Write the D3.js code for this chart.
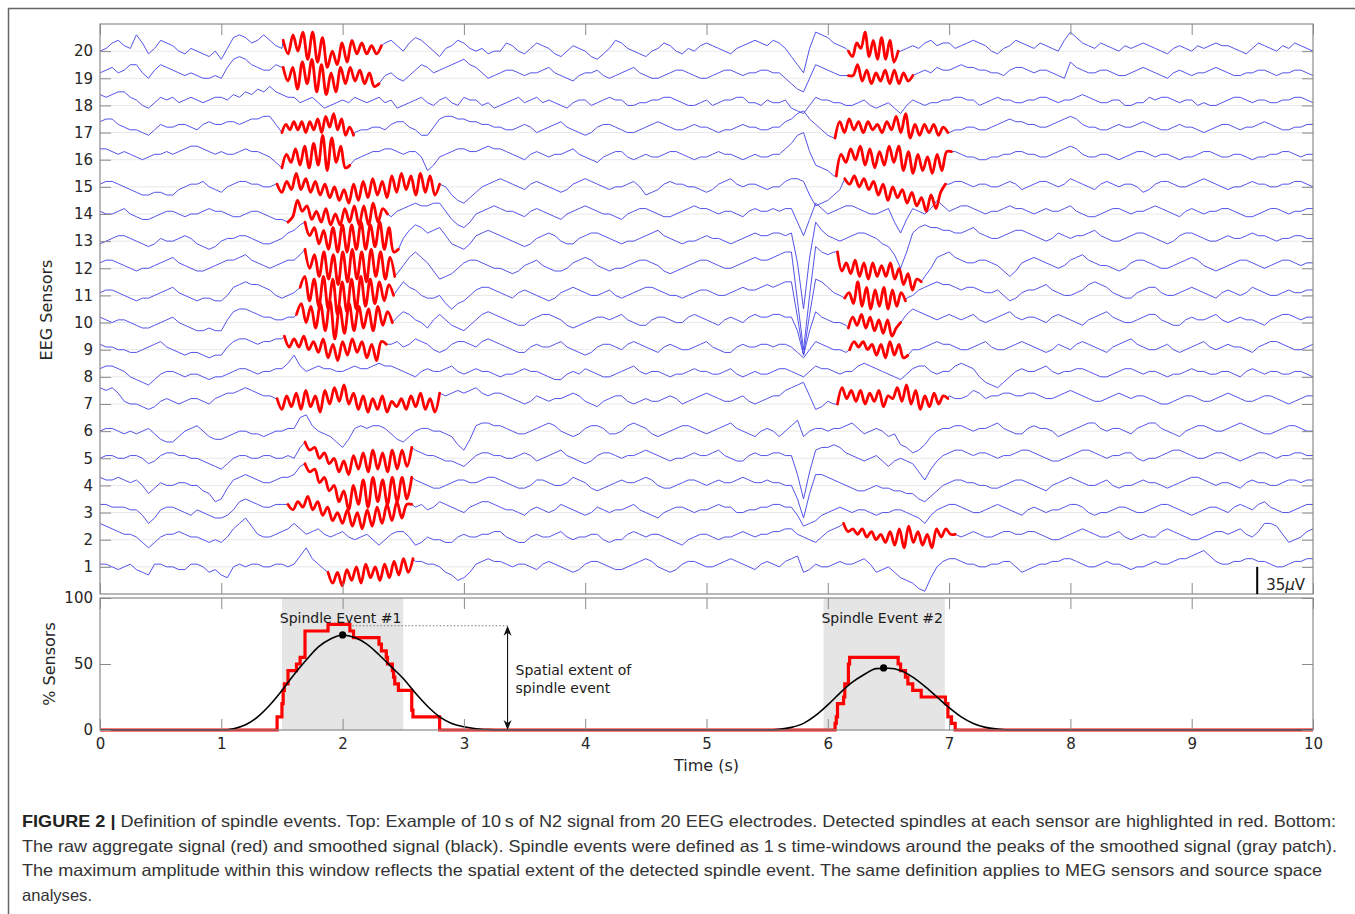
<!DOCTYPE html>
<html>
<head>
<meta charset="utf-8">
<script src="https://cdn.jsdelivr.net/npm/d3@7"></script>
<style>
  body { margin: 0; background: #fff; }
  svg text { font-family: "DejaVu Sans", sans-serif; }
</style>
</head>
<body>
<svg id="chart" width="1355" height="914"></svg>
<script>
// EEG traces, one value every 0.05 s (one row per second), in tenths of the channel spacing (10 = 35 uV)
var sampleStep = 0.05;
var ch20 = [0,1,3,4,2,1,6,3,-1,1,4,3,2,0,-1,1,0,-1,-2,0,
  -3,1,5,6,5,3,4,6,4,2,1,0,0,0,0,0,0,0,0,0,
  0,0,0,0,0,0,0,3,4,2,0,3,5,4,2,0,-2,1,2,4,
  3,1,0,1,-1,0,0,3,2,0,-1,1,3,2,1,-1,-2,0,2,1,
  0,-2,-3,-1,1,4,3,1,0,-1,-2,0,1,3,2,0,-1,1,0,2,
  3,2,1,0,-1,1,2,3,4,3,2,4,3,1,-2,-5,-8,1,7,6,
  5,3,2,1,0,0,0,0,0,0,0,0,0,1,2,1,3,4,2,3,
  3,1,2,3,4,3,2,0,-1,1,2,4,3,2,1,3,2,1,0,4,
  7,5,3,2,1,3,2,1,0,2,1,2,3,2,1,0,-1,1,2,1,
  0,2,1,2,3,2,2,1,0,-1,1,3,2,1,0,2,1,3,2,1, 0];
var ch19 = [2,3,4,2,3,5,5,2,0,3,5,4,3,2,1,2,1,0,0,1,
  0,4,7,8,7,5,4,3,3,5,4,0,0,0,0,0,0,0,0,0,
  0,0,0,0,0,0,4,1,2,0,-1,1,3,5,4,2,3,4,5,6,
  7,5,4,2,0,1,2,3,3,2,1,2,2,3,4,2,1,0,-1,1,
  2,2,3,1,0,1,2,3,4,2,1,0,0,1,2,3,3,2,1,0,
  0,1,2,3,3,2,1,2,2,3,3,2,2,0,-2,-4,-5,0,5,4,
  3,2,1,1,0,0,0,0,0,0,0,0,0,0,1,2,3,2,4,3,
  3,4,5,4,4,3,3,2,2,1,3,4,4,3,2,3,3,2,1,0,
  6,4,3,2,2,3,3,2,1,1,2,3,4,3,2,1,0,2,3,2,
  1,2,2,3,4,3,2,1,1,2,2,3,3,2,1,2,2,3,3,2, 1];
var ch18 = [4,3,4,5,5,3,2,0,-1,1,3,2,3,1,2,3,2,1,2,3,
  3,2,4,3,5,4,6,5,7,5,4,3,3,1,2,3,1,-1,0,1,
  2,1,3,2,1,2,3,1,2,-1,0,1,2,3,1,0,2,3,1,0,
  3,2,2,0,1,-1,0,1,2,3,1,2,3,1,2,1,0,-1,1,2,
  2,0,1,2,3,2,2,0,0,1,1,2,2,3,3,2,1,0,0,1,
  2,0,1,2,2,3,3,1,1,0,2,1,1,2,-1,-2,-3,0,3,2,
  2,1,1,0,0,1,2,0,-1,0,1,-1,-3,0,2,1,0,1,1,2,
  2,3,3,2,2,0,1,2,3,2,2,1,1,2,2,3,3,2,1,2,
  2,3,4,3,2,1,1,2,2,0,0,1,1,3,2,3,3,2,1,2,
  2,0,1,0,0,1,2,3,3,2,1,2,2,1,1,2,2,3,3,2, 1];
var ch17 = [4,5,5,3,2,1,1,0,-1,1,3,2,2,3,3,2,1,3,4,3,
  3,4,4,3,4,5,5,6,6,3,0,0,0,0,0,0,0,0,0,0,
  0,0,0,1,1,2,2,1,3,4,4,2,1,-1,-1,2,5,6,6,5,
  5,4,4,3,3,2,2,1,1,2,3,2,0,1,2,3,4,2,1,0,
  -1,0,2,3,3,2,1,0,0,1,2,3,4,3,2,1,1,2,3,2,
  2,1,0,1,1,2,3,2,2,1,1,2,2,4,5,7,8,5,3,1,
  -1,-2,0,0,0,0,0,0,0,0,0,0,0,0,0,0,0,0,0,0,
  0,1,1,2,2,1,1,2,3,4,5,4,4,3,3,2,2,3,4,5,
  6,5,3,2,2,1,1,2,3,2,2,3,4,3,2,1,1,2,3,2,
  2,1,0,1,2,3,3,2,1,2,2,3,4,3,2,1,1,2,2,3, 3];
var ch16 = [4,4,3,2,3,2,1,0,1,2,2,3,2,3,4,5,5,4,3,2,
  3,2,2,3,4,3,3,2,1,-1,0,0,0,0,0,0,0,0,0,0,
  0,0,0,1,2,3,3,4,4,3,2,3,3,1,-4,-2,1,2,3,4,
  4,3,3,4,5,4,4,3,2,1,0,2,3,2,1,2,2,3,4,2,
  1,0,-1,1,2,3,3,1,0,1,2,1,1,2,3,3,2,1,0,1,
  1,2,3,2,2,1,0,1,2,1,1,2,2,4,6,9,10,3,-2,-3,
  -4,-6,0,0,0,0,0,0,0,0,0,0,0,0,0,0,0,0,0,0,
  0,3,2,1,1,0,0,1,1,2,2,3,3,2,2,1,1,2,3,4,
  5,4,2,1,1,2,2,1,0,1,2,3,3,2,1,2,2,1,0,1,
  1,2,3,3,2,1,1,2,2,1,0,1,1,2,2,3,3,2,1,2, 2];
var ch15 = [1,2,2,1,0,-1,-2,-3,-3,-2,-2,-3,-3,-1,0,1,1,2,0,-1,
  -2,0,1,2,2,1,1,0,0,1,0,0,0,0,0,0,0,0,0,0,
  0,0,0,0,0,0,0,0,0,0,0,0,0,0,0,0,0,0,-3,-5,
  -6,-4,-2,0,1,2,3,2,1,0,-1,1,2,1,0,-1,-2,-1,1,2,
  3,2,1,0,-1,0,0,1,2,0,-3,-2,-1,1,2,1,1,0,0,-1,
  -2,-1,1,2,3,1,0,1,1,0,-1,0,0,2,3,3,2,-3,-7,-6,
  -5,-3,-1,0,0,0,0,0,0,0,0,0,0,0,0,0,0,0,0,0,
  1,2,2,1,0,1,1,0,0,1,2,1,-1,0,1,2,2,1,0,1,
  3,2,1,0,-1,1,2,1,0,1,1,0,-2,-1,1,2,2,1,0,0,
  1,2,3,2,1,0,-1,0,0,1,2,1,1,0,0,1,1,2,2,1, 0];
var ch14 = [1,0,0,1,2,0,-1,-2,-2,-1,0,1,1,0,-1,0,0,1,2,1,
  1,0,-1,-1,0,1,1,0,-1,-2,-2,-3,0,0,0,0,0,0,0,0,
  0,0,0,0,0,0,0,0,-1,1,2,3,4,3,3,4,4,1,-2,-4,
  -5,-3,0,1,2,3,2,1,1,0,-1,1,2,1,0,-1,-2,0,1,2,
  3,2,1,0,0,-1,-2,0,1,2,2,1,0,-1,-1,0,1,2,3,2,
  2,1,0,1,1,0,-1,1,2,1,1,2,1,2,2,-3,-8,-2,4,2,
  0,1,2,3,3,2,1,0,0,1,2,-3,-7,-2,2,1,0,2,5,3,
  1,2,3,3,2,1,0,1,1,2,3,2,2,1,0,1,2,1,1,2,
  3,1,0,-1,-1,0,1,2,2,1,0,1,1,2,3,2,1,0,-1,1,
  2,1,0,1,1,2,2,1,0,-1,-1,0,1,2,2,1,0,1,1,2, 2];
var ch13 = [-1,0,1,2,2,1,0,-1,-2,-1,1,0,0,1,2,1,-1,-2,-3,-2,
  0,1,1,2,2,1,0,-1,-1,0,1,3,4,6,0,0,0,0,0,0,
  0,0,0,0,0,0,0,0,0,-2,1,4,6,5,3,4,5,2,-1,-2,
  -3,-1,2,3,4,3,2,1,0,-1,-2,-1,1,2,3,2,0,-1,-1,1,
  2,3,3,2,1,0,-1,0,0,1,2,3,4,2,1,0,-1,0,0,1,
  2,1,1,0,-1,0,1,2,3,2,2,3,3,2,3,-8,-25,-6,7,4,
  2,1,0,1,2,3,3,2,1,-1,-2,-5,-10,-4,3,5,6,5,5,4,
  4,3,3,4,5,3,2,1,1,2,3,4,4,3,2,1,0,1,3,2,
  1,2,2,3,4,2,1,0,0,1,2,3,3,2,1,0,-1,0,2,3,
  3,2,1,0,0,1,2,1,1,2,3,2,2,1,0,1,1,2,2,1, 1];
var ch12 = [2,3,3,2,1,0,-1,0,0,1,2,3,4,2,1,0,-1,-1,0,1,
  2,3,3,4,5,3,2,1,0,1,2,3,3,5,0,0,0,0,0,0,
  0,0,0,0,0,0,0,0,0,-2,1,4,6,4,2,-1,-4,-3,-2,0,
  2,3,3,2,1,0,0,-1,-2,-1,1,2,3,1,0,-1,-1,0,2,3,
  4,3,1,0,-1,0,0,1,2,3,3,2,1,-1,-2,-1,0,1,2,3,
  3,2,1,0,0,1,2,3,4,3,3,4,5,6,6,-12,-30,-10,8,6,
  5,6,0,0,0,0,0,0,0,0,0,0,0,0,0,0,-3,0,4,5,
  6,4,3,2,2,3,3,2,1,-1,-3,-1,2,3,4,3,2,1,0,1,
  3,4,5,3,2,1,1,0,-1,0,2,3,3,2,1,0,0,1,2,3,
  4,3,1,0,-1,0,1,2,3,3,2,1,0,1,2,3,3,2,1,2, 2];
var ch11 = [1,2,2,1,0,-1,-2,-1,-1,0,1,2,3,1,0,-1,-2,-1,-1,-2,
  -2,0,3,4,5,4,4,3,2,0,-1,0,1,2,0,0,0,0,0,0,
  0,0,0,0,0,0,0,0,0,2,5,3,2,0,-1,-1,0,-3,-5,-3,
  -2,0,2,3,3,2,1,0,-1,1,2,1,0,-1,-2,-1,1,2,3,2,
  1,0,0,1,2,0,-1,0,1,2,3,3,2,1,0,0,-1,0,1,2,
  2,1,0,0,1,2,3,2,2,3,4,3,4,5,5,-8,-22,-7,6,5,
  3,1,0,0,0,0,0,0,0,0,0,0,0,-1,0,2,3,4,5,4,
  4,3,2,3,3,2,1,1,2,0,-2,-1,1,2,2,3,4,2,1,0,
  0,1,2,4,5,4,3,1,0,-1,-1,1,2,3,3,1,0,0,1,2,
  3,2,1,0,-1,1,2,1,0,1,3,2,1,0,0,1,2,1,1,2, 2];
var ch10 = [2,1,0,1,1,0,-1,-2,-2,-1,0,1,2,0,-1,-2,-3,-3,-2,-3,
  -3,1,4,5,5,4,3,2,2,1,1,2,2,0,0,0,0,0,0,0,
  0,0,0,0,0,0,0,0,0,2,4,3,1,0,-2,1,3,1,-1,-2,
  -3,-1,1,3,4,3,2,1,0,-1,-1,1,2,3,3,2,1,-1,-2,-1,
  0,1,2,2,1,2,3,1,0,-1,-1,1,2,2,1,0,0,2,3,2,
  1,0,-1,1,2,1,0,2,3,2,2,3,3,2,2,-3,-12,-3,4,2,
  1,0,0,-1,0,0,0,0,0,0,0,0,0,3,5,4,3,2,1,2,
  3,2,1,2,3,1,0,1,2,3,4,2,1,2,2,1,0,2,3,2,
  1,0,-1,1,2,3,4,2,1,0,0,1,2,3,3,1,0,-1,-1,1,
  2,1,1,2,3,1,0,1,2,1,1,0,-1,1,2,3,3,2,1,2, 2];
var ch9 = [2,1,1,0,0,-1,-1,0,1,2,3,1,0,-1,-2,-1,-1,-2,-3,-2,
  -2,1,3,4,4,3,2,3,3,4,4,0,0,0,0,0,0,0,0,0,
  0,0,0,0,0,0,0,0,2,3,1,2,4,3,2,0,-1,0,2,3,
  3,2,1,3,4,3,2,1,0,-1,-1,1,2,1,1,2,3,1,0,-1,
  -2,-1,1,2,2,1,0,2,3,2,1,0,-1,1,2,1,0,0,1,2,
  3,1,0,-1,-1,1,2,1,1,2,2,1,2,2,1,-1,-3,0,3,2,
  1,0,0,-1,0,0,0,0,0,0,0,0,0,0,0,0,1,2,3,2,
  2,1,0,0,1,2,3,1,0,0,1,2,3,2,1,0,-1,0,2,1,
  0,2,3,2,1,0,-1,1,2,3,4,2,1,0,0,1,2,0,-1,0,
  1,2,3,1,0,1,2,1,1,0,-1,1,2,3,3,2,1,0,0,1, 2];
var ch8 = [3,4,4,3,2,0,-1,-2,-3,-1,1,2,2,1,0,1,1,0,-1,0,
  0,1,2,3,3,2,1,2,2,3,3,5,8,4,2,3,4,3,3,2,
  2,3,4,3,3,4,5,4,4,3,2,1,0,2,3,2,2,3,4,2,
  1,2,3,2,2,1,0,1,1,2,3,2,2,1,0,-1,-1,1,2,1,
  3,2,1,0,0,1,2,3,4,2,1,2,2,1,0,1,1,2,3,2,
  2,1,1,2,3,1,0,1,2,1,1,2,3,3,2,1,0,2,4,3,
  3,2,1,2,2,4,5,4,3,2,1,0,-1,1,3,4,4,2,1,2,
  2,4,5,4,3,0,-2,-3,-4,-2,0,2,3,2,2,3,4,2,1,2,
  2,3,3,2,1,0,0,1,2,3,3,2,1,2,2,1,0,1,1,2,
  3,2,2,1,1,2,2,1,0,2,3,2,1,2,2,1,1,2,2,1, 0];
var ch7 = [6,5,6,4,1,0,0,-1,-2,-1,1,2,1,0,1,2,2,1,0,2,
  3,4,4,5,6,5,4,3,3,2,0,0,0,0,0,0,0,0,0,0,
  0,0,0,0,0,0,0,0,0,0,0,0,0,0,0,0,0,3,4,5,
  4,5,6,4,3,4,4,3,2,1,0,1,3,2,1,2,2,3,4,3,
  1,0,-1,1,2,3,3,1,0,1,2,1,1,2,3,2,0,1,2,3,
  4,3,2,1,1,2,3,1,0,1,2,3,3,5,6,7,8,3,-2,-1,
  1,0,0,0,0,0,0,0,0,0,0,0,0,0,0,0,0,0,0,0,
  3,2,2,3,5,4,2,3,3,4,4,3,3,4,4,3,2,2,3,4,
  5,4,3,2,1,1,2,3,4,3,2,3,3,2,1,0,0,1,2,3,
  3,2,1,1,2,3,4,3,2,1,1,2,3,3,2,1,0,1,2,3, 3];
var ch6 = [0,1,1,0,-1,0,-1,0,1,-1,-3,-4,-4,-2,0,1,2,0,-2,-3,
  -3,-2,-1,0,0,-1,-1,-2,-1,0,0,1,1,5,6,2,0,-1,-2,-4,
  -6,-3,1,2,1,2,2,1,-1,-3,-4,-2,0,1,1,0,0,-1,-2,-5,
  -7,-3,2,3,3,2,2,1,0,-1,-1,0,1,2,3,2,0,-1,-2,-1,
  1,2,2,1,-1,-1,0,2,3,2,1,-1,-2,-1,0,1,2,2,1,0,
  -1,0,1,2,3,1,0,-1,-2,0,1,0,-2,0,2,4,-2,0,1,1,
  0,1,1,2,3,1,-1,0,1,0,-2,-1,-5,-6,-8,-7,-5,-2,0,1,
  1,2,2,1,0,1,1,2,3,1,0,-1,-1,1,2,1,1,0,-2,-1,
  0,1,2,3,3,1,0,1,1,0,-1,1,2,3,3,1,0,-1,-2,0,
  1,2,2,1,0,0,1,2,3,2,1,0,-1,-1,0,1,2,2,1,0, 0];
var ch5 = [0,1,1,0,0,1,1,0,-2,-1,1,2,2,1,1,0,0,-1,-2,-3,
  -4,-2,0,1,1,0,0,1,1,0,0,1,0,4,0,0,0,0,0,0,
  0,0,0,0,0,0,0,0,0,0,0,0,3,2,1,1,0,-1,-1,-2,
  -3,-1,1,2,2,1,1,0,0,1,2,1,-1,0,1,2,3,1,0,-1,
  -2,-1,1,2,2,1,0,1,1,2,3,2,1,0,-1,0,0,1,2,1,
  1,2,3,1,0,-1,-1,1,2,1,1,2,2,1,1,-6,-15,-5,3,4,
  4,5,4,2,1,0,-1,0,1,-1,-3,-1,0,-1,-2,-5,-8,-4,-1,1,
  2,3,3,2,1,2,2,1,0,1,1,2,3,3,2,1,0,-1,-1,0,
  1,2,3,3,2,1,0,1,1,2,2,0,-1,0,0,1,2,3,3,2,
  1,0,0,1,2,2,1,0,-1,0,1,2,2,1,0,1,1,2,2,1, 1];
var ch4 = [3,2,2,3,2,1,2,0,-3,-1,1,0,0,1,1,0,0,-2,-3,-6,
  -5,-1,2,3,4,3,2,1,1,2,3,3,4,7,0,0,0,0,0,0,
  0,0,0,0,0,0,0,0,0,0,0,0,2,1,0,-1,-1,0,1,2,
  2,1,1,2,3,3,2,1,0,-1,-1,0,2,2,1,0,0,1,3,2,
  1,-1,-2,-1,0,1,2,1,1,2,3,2,0,-1,-1,0,1,2,2,1,
  0,1,2,1,1,2,3,2,1,1,2,1,1,0,0,-5,-12,-3,4,4,
  3,2,1,0,-1,-2,-2,-1,0,-1,-1,-2,-2,-3,-3,-5,-6,-4,-2,0,
  1,2,2,1,1,0,0,-1,-1,0,1,2,2,1,0,-1,-2,0,1,2,
  3,2,1,0,0,1,2,0,-1,0,0,1,2,1,1,0,-1,0,1,2,
  3,3,2,1,0,1,1,0,-1,1,2,1,1,0,0,1,2,2,1,2, 2];
var ch3 = [3,3,2,2,2,1,1,-1,-4,-2,1,2,2,1,0,-1,1,0,-1,-2,
  -2,-1,1,4,5,4,3,2,2,3,3,0,0,0,0,0,0,0,0,0,
  0,0,0,0,0,0,0,0,0,0,0,0,2,3,1,2,4,3,2,1,
  0,2,3,4,4,3,2,1,1,0,-1,1,2,1,0,1,3,2,1,0,
  -1,0,2,1,0,1,1,2,3,1,0,-1,-2,0,1,2,2,1,0,1,
  1,2,3,2,2,0,0,1,1,2,2,3,3,2,2,-1,-5,-4,-3,-1,
  0,1,2,1,0,1,1,0,-1,0,0,1,1,0,-1,-2,-4,-1,1,2,
  3,3,2,1,0,0,1,2,3,2,1,0,-1,1,2,1,0,1,1,2,
  3,3,2,0,-1,0,0,1,2,2,1,0,0,1,2,3,3,2,1,0,
  -1,0,1,2,2,1,0,2,3,2,1,3,4,2,1,0,0,1,2,3, 3];
var ch2 = [6,5,4,3,2,2,1,-1,-3,-1,1,2,2,3,2,1,1,0,-1,0,
  -1,1,4,6,8,5,2,1,1,2,3,4,6,4,2,3,4,2,1,2,
  3,1,0,1,2,0,-2,0,2,3,3,1,-2,-1,1,0,0,-1,-1,1,
  2,1,1,2,2,3,3,1,0,-1,-1,1,2,1,1,2,3,1,0,1,
  1,2,2,0,-1,0,0,2,3,2,1,2,2,1,0,-1,-2,0,1,2,
  2,1,0,1,1,2,3,2,1,2,2,3,3,4,4,2,1,0,-1,1,
  3,4,5,0,0,0,0,0,0,0,0,0,0,0,0,0,0,0,0,0,
  0,0,1,2,3,2,1,1,2,3,3,2,2,3,3,2,1,0,0,1,
  2,3,4,3,2,1,1,2,3,1,0,1,2,1,1,3,4,3,2,1,
  0,0,1,2,3,3,2,3,4,2,1,3,6,6,5,2,-1,0,1,3, 4];
var ch1 = [1,1,0,-1,0,1,-1,-2,-3,1,1,0,0,-1,-1,1,1,0,-2,-1,
  -3,-4,0,1,0,1,1,0,0,1,1,0,1,4,7,3,1,-1,0,0,
  0,0,0,0,0,0,0,0,0,0,0,0,2,2,1,1,0,-2,-3,-5,
  -4,-2,1,2,3,2,2,1,0,1,1,0,-1,1,2,1,0,-1,-2,-1,
  1,2,2,1,0,-1,-1,0,1,2,3,2,0,-1,-2,-1,1,2,2,1,
  0,0,1,2,3,2,1,0,-1,1,2,1,0,2,3,4,-2,-1,1,0,
  0,1,2,1,1,2,3,1,-2,-1,0,-2,-4,-5,-6,-8,-9,-4,0,2,
  3,3,2,1,1,0,0,1,1,2,2,0,-2,-1,0,1,1,2,2,3,
  3,2,1,0,0,1,2,1,1,0,-1,0,0,1,2,1,1,2,3,3,
  4,5,6,4,2,1,1,2,2,3,3,2,2,1,0,0,1,2,2,3, 3];
var channelData = [ch1,ch2,ch3,ch4,ch5,ch6,ch7,ch8,ch9,ch10,ch11,ch12,ch13,ch14,ch15,ch16,ch17,ch18,ch19,ch20];

// detected spindles: channel, start (s), end (s), waveform peaks/troughs (tenths of spacing)
var spindleChannel = [20,19,17,16,15,14,13,12,11,10,9,7,5,4,3,1, 20,19,17,16,15,12,11,10,9,7,2];
var spindleStart = [1.51,1.51,1.50,1.50,1.46,1.55,1.69,1.69,1.65,1.62,1.52,1.46,1.69,1.69,1.55,1.88, 6.17,6.17,6.06,6.07,6.14,6.08,6.14,6.17,6.18,6.08,6.13];
var spindleEnd = [2.32,2.30,2.09,2.06,2.80,2.37,2.46,2.43,2.42,2.41,2.36,2.80,2.57,2.57,2.57,2.58, 6.58,6.70,6.99,7.02,6.97,6.77,6.64,6.60,6.66,6.99,7.05];
var spindleWave = [
  [4,-1,6,0,7,-3,7,-4,5,-6,0,-5,3,-4,4,-1,3,-1,2,-1,2],
  [4,-1,4,-4,6,-2,7,-5,5,-6,2,-5,4,-2,4,-1,3,-2,2,-3,-2],
  [0,3,1,4,1,4,0,4,1,5,0,6,2,7,1,5,-1,2,-1],
  [-3,2,-1,4,-2,5,-3,6,-2,9,-4,8,-1,5,-3,-2],
  [1,-2,2,-1,5,-1,3,-2,2,-3,1,-4,0,-5,-1,-6,1,-5,2,-4,3,-3,2,-4,4,-2,5,-1,4,-3,5,-2,4,-3,1],
  [-3,-1,5,1,3,-2,1,-3,2,-4,0,-4,2,-3,3,-4,3,-4,4,-3,2,0],
  [7,2,5,-1,4,-3,5,-4,6,-4,6,-3,7,-3,6,-2,7,-3,5,-4,-3],
  [7,0,5,-3,6,-4,5,-6,6,-5,7,-4,6,-5,7,-3,6,-4,4,-3],
  [3,7,-2,6,-4,7,-5,6,-7,5,-6,6,-5,7,-4,6,-3,5,-2,4,0],
  [3,7,0,6,-2,7,-3,8,-6,6,-4,7,-3,6,-2,5,-3,6,-1,4,0],
  [5,1,4,1,5,0,3,-1,4,-3,2,-4,3,-2,4,-1,3,-3,2,-4,3,2],
  [2,-2,3,-1,4,-2,5,-1,3,-3,5,0,6,1,7,0,4,-2,3,-3,2,-2,3,-3,1,-1,2,-2,3,-1,4,-2,2,-3,4],
  [6,3,4,0,2,-2,0,-5,-1,-6,1,-4,2,-5,3,-4,2,-5,3,-4,3,-3,4],
  [8,5,6,1,3,-2,0,-6,-2,-9,0,-7,2,-8,3,-6,2,-7,3,-6,3,-5,3],
  [3,1,4,2,6,1,4,-1,2,-3,0,-4,1,-5,0,-6,1,-5,2,-4,3,-3,4,-2,3,3],
  [-2,-6,-2,-7,-1,-5,0,-6,1,-4,0,-5,1,-4,2,-3,3,-2,3],
  [0,-2,3,1,7,-2,4,-3,5,-3,4,-4,0],
  [1,1,5,-1,3,-2,2,-1,3,-2,3,-2,2,-1,1],
  [-2,4,0,5,1,4,0,4,1,3,0,4,1,6,0,7,-2,3,-1,3,0,3,-1,2,0],
  [-6,2,-1,4,0,5,-2,4,-3,3,-2,5,-1,5,-4,3,-5,2,-4,1,-5,2,-4,3,3],
  [3,1,4,0,3,-1,2,-3,1,-5,0,-4,-1,-6,-2,-7,-4,-9,-3,-8,-2,1],
  [6,-1,2,-2,3,-3,2,-4,2,-3,1,-3,2,-4,0,-6,-2,-8,-4,-5],
  [-1,1,-3,5,-4,3,-5,2,-4,3,-5,2,-4,1,-2],
  [-2,2,-1,3,-2,2,-3,1,-4,1,-5,-2,0],
  [0,3,1,3,0,2,-2,2,-3,3,-2,2,-3,-2],
  [0,6,2,5,1,5,0,4,1,5,-1,3,2,6,1,7,0,5,-2,3,-1,4,0,3,2],
  [6,3,4,2,4,1,3,0,2,-1,3,-2,4,-3,5,-1,3,-2,2,-3,4,1,4,2,2]
];

// bottom panel
var eventStart = [1.5, 5.965];
var eventLabels = ["Spindle Event #1", "Spindle Event #2"];
var smooth1Start = 1.0;
var smooth1 = [0,1,4,10,19,30,42,53,63,69,72,70,65,57,48,39,28,18,10,5,2.5,1,0.3,0];
var smooth2Start = 5.5;
var smooth2 = [0,0.5,2,5,11,19,28,36,42,46.5,46.8,45,40,33,25,17,10,5,2,0.7,0];
var peakTimes = [2.0, 6.46];
var peakValues = [72, 47];
var extentTime = 3.36, extentFrom = 2.08, extentValue = 79;
var timeTicks = d3.range(0, 11);
var channelTicks = d3.range(1, 21);
var percentTicks = [0, 50, 100];

var svg = d3.select("#chart");

var x = d3.scaleLinear().domain([0, 10]).range([100, 1313]);
var yTop = d3.scaleLinear().domain([0, 21]).range([594, 24]);
var yBot = d3.scaleLinear().domain([0, 100]).range([730, 598]);

var spindles = spindleChannel.map(function(c, i) {
  var w = spindleWave[i];
  var dt = (spindleEnd[i] - spindleStart[i]) / (w.length - 1);
  return { ch: c, t0: spindleStart[i], t1: spindleEnd[i],
           pts: w.map(function(v, k) { return { t: spindleStart[i] + k * dt, v: v }; }) };
});

// outer figure frame
svg.append("path").attr("d", "M8.5,914 L8.5,8.5 L1355,8.5")
  .attr("fill", "none").attr("stroke", "#666").attr("stroke-width", 1.5);

// gridlines
svg.append("g").selectAll("line").data(channelTicks).enter().append("line")
  .attr("x1", x(0)).attr("x2", x(10))
  .attr("y1", function(d){ return yTop(d); }).attr("y2", function(d){ return yTop(d); })
  .attr("stroke", "#e8e8e8").attr("stroke-width", 1);

function traceLine(ch) {
  return d3.line()
    .x(function(d){ return x(d.t); })
    .y(function(d){ return yTop(ch + d.v / 10); });
}

// blue traces, cut where a spindle is drawn in red
var traceGroup = svg.append("g");
channelData.forEach(function(vals, idx) {
  var ch = idx + 1;
  var sp = spindles.filter(function(s){ return s.ch === ch; }).sort(function(a, b){ return a.t0 - b.t0; });
  var grid = vals.map(function(v, i){ return { t: i * sampleStep, v: v }; });
  for (var k = 0; k <= sp.length; k++) {
    var prev = sp[k - 1], next = sp[k];
    var a = prev ? prev.t1 : 0, b = next ? next.t0 : 10;
    var seg = [];
    if (prev) seg.push(prev.pts[prev.pts.length - 1]);
    grid.forEach(function(p) {
      if ((prev ? p.t > a + 0.005 : p.t >= a) && (next ? p.t < b - 0.005 : p.t <= b + 0.001)) seg.push(p);
    });
    if (next) seg.push(next.pts[0]);
    traceGroup.append("path").attr("d", traceLine(ch)(seg))
      .attr("fill", "none").attr("stroke", "#4a4ae8").attr("stroke-width", 0.95)
      .attr("stroke-linejoin", "round");
  }
});

// red spindles
svg.append("g").selectAll("path").data(spindles).enter().append("path")
  .attr("d", function(s){ return traceLine(s.ch).curve(d3.curveCatmullRom.alpha(0.5))(s.pts); })
  .attr("fill", "none").attr("stroke", "#ff0000").attr("stroke-width", 2.8)
  .attr("stroke-linejoin", "round").attr("stroke-linecap", "round");

// axes styling helper
function styleAxis(g) {
  g.select(".domain").remove();
  g.selectAll(".tick line").attr("stroke", "#8a8a8a");
  g.selectAll(".tick text").attr("fill", "#262626").style("font-size", "15px")
    .style("font-family", "DejaVu Sans, sans-serif");
}

// top panel axes
svg.append("g").attr("transform", "translate(" + x(0) + ",0)")
  .call(d3.axisLeft(yTop).tickValues(channelTicks).tickSizeInner(-11).tickSizeOuter(0).tickPadding(7))
  .call(styleAxis);
svg.append("g").attr("transform", "translate(" + x(10) + ",0)")
  .call(d3.axisRight(yTop).tickValues(channelTicks).tickSizeInner(-11).tickSizeOuter(0).tickFormat(""))
  .call(styleAxis);
svg.append("g").attr("transform", "translate(0," + yTop(21) + ")")
  .call(d3.axisTop(x).tickValues(timeTicks).tickSizeInner(-11).tickSizeOuter(0).tickFormat(""))
  .call(styleAxis);
svg.append("g").attr("transform", "translate(0," + yTop(0) + ")")
  .call(d3.axisBottom(x).tickValues(timeTicks).tickSizeInner(-11).tickSizeOuter(0).tickFormat(""))
  .call(styleAxis);
svg.append("rect").attr("x", x(0)).attr("y", yTop(21))
  .attr("width", x(10) - x(0)).attr("height", yTop(0) - yTop(21))
  .attr("fill", "none").attr("stroke", "#8a8a8a").attr("stroke-width", 1.2);

// scale bar
svg.append("line").attr("x1", x(9.54)).attr("x2", x(9.54))
  .attr("y1", yTop(1)).attr("y2", yTop(0))
  .attr("stroke", "#000").attr("stroke-width", 2);
var sb = svg.append("text").attr("x", x(9.54) + 9).attr("y", 590)
  .attr("fill", "#262626").style("font-size", "15px");
sb.append("tspan").text("35");
sb.append("tspan").attr("font-style", "italic").text("\u03bc");
sb.append("tspan").text("V");

svg.append("text").attr("transform", "translate(52,310) rotate(-90)")
  .attr("text-anchor", "middle").attr("fill", "#262626").style("font-size", "16px")
  .text("EEG Sensors");

// bottom panel
svg.append("g").selectAll("rect").data(eventStart).enter().append("rect")
  .attr("x", function(d){ return x(d); }).attr("y", yBot(100))
  .attr("width", function(d){ return x(d + 1) - x(d); })
  .attr("height", yBot(0) - yBot(100)).attr("fill", "#e5e5e5");

// raw aggregate: share of sensors with an active spindle
var changes = [];
spindles.forEach(function(s){ changes.push({ t: s.t0, d: 1 }); changes.push({ t: s.t1, d: -1 }); });
changes.sort(function(a, b){ return a.t - b.t; });
var count = 0;
var aggregate = [{ t: 0, p: 0 }];
changes.forEach(function(c){ count += c.d; aggregate.push({ t: c.t, p: count / channelData.length * 100 }); });
aggregate.push({ t: 10, p: 0 });

svg.append("path").datum(aggregate)
  .attr("d", d3.line().x(function(d){ return x(d.t); }).y(function(d){ return yBot(d.p); }).curve(d3.curveStepAfter))
  .attr("fill", "none").attr("stroke", "#ff0000").attr("stroke-width", 3.2);

var smoothPts = [{ t: 0, p: 0 }];
smooth1.forEach(function(v, i){ smoothPts.push({ t: smooth1Start + i * 0.1, p: v }); });
smooth2.forEach(function(v, i){ smoothPts.push({ t: smooth2Start + i * 0.1, p: v }); });
smoothPts.push({ t: 10, p: 0 });
svg.append("path").datum(smoothPts)
  .attr("d", d3.line().x(function(d){ return x(d.t); }).y(function(d){ return yBot(d.p); }).curve(d3.curveMonotoneX))
  .attr("fill", "none").attr("stroke", "#000").attr("stroke-width", 1.6);

svg.append("g").selectAll("circle").data(peakTimes).enter().append("circle")
  .attr("cx", function(d){ return x(d); })
  .attr("cy", function(d, i){ return yBot(peakValues[i]); })
  .attr("r", 3.6).attr("fill", "#000");

svg.append("g").selectAll("text").data(eventStart).enter().append("text")
  .attr("x", function(d){ return x(d + 0.5) - 2; }).attr("y", 623)
  .attr("text-anchor", "middle").attr("fill", "#1a1a1a").style("font-size", "14px")
  .text(function(d, i){ return eventLabels[i]; });

// spatial extent marker
svg.append("line").attr("x1", x(extentFrom)).attr("x2", x(extentTime))
  .attr("y1", yBot(extentValue)).attr("y2", yBot(extentValue))
  .attr("stroke", "#777").attr("stroke-width", 1).attr("stroke-dasharray", "1.5,2");
svg.append("line").attr("x1", x(extentTime)).attr("x2", x(extentTime))
  .attr("y1", yBot(extentValue) + 4).attr("y2", yBot(0) - 4)
  .attr("stroke", "#111").attr("stroke-width", 1.1);
var ax = x(extentTime);
svg.append("path").attr("d", "M" + ax + "," + yBot(extentValue) + " l-4,10 l4,-3 l4,3 z").attr("fill", "#111");
svg.append("path").attr("d", "M" + ax + "," + yBot(0) + " l-4,-10 l4,3 l4,-3 z").attr("fill", "#111");
svg.append("text").attr("x", ax + 8).attr("y", 675).attr("fill", "#1a1a1a").style("font-size", "14px").text("Spatial extent of");
svg.append("text").attr("x", ax + 8).attr("y", 693).attr("fill", "#1a1a1a").style("font-size", "14px").text("spindle event");

svg.append("g").attr("transform", "translate(" + x(0) + ",0)")
  .call(d3.axisLeft(yBot).tickValues(percentTicks).tickSizeInner(-11).tickSizeOuter(0).tickPadding(7))
  .call(styleAxis);
svg.append("g").attr("transform", "translate(" + x(10) + ",0)")
  .call(d3.axisRight(yBot).tickValues(percentTicks).tickSizeInner(-11).tickSizeOuter(0).tickFormat(""))
  .call(styleAxis);
svg.append("g").attr("transform", "translate(0," + yBot(100) + ")")
  .call(d3.axisTop(x).tickValues(timeTicks).tickSizeInner(-11).tickSizeOuter(0).tickFormat(""))
  .call(styleAxis);
svg.append("g").attr("transform", "translate(0," + yBot(0) + ")")
  .call(d3.axisBottom(x).tickValues(timeTicks).tickSizeInner(-11).tickSizeOuter(0).tickPadding(8))
  .call(styleAxis);
svg.append("rect").attr("x", x(0)).attr("y", yBot(100))
  .attr("width", x(10) - x(0)).attr("height", yBot(0) - yBot(100))
  .attr("fill", "none").attr("stroke", "#8a8a8a").attr("stroke-width", 1.2);

svg.append("text").attr("transform", "translate(55,664) rotate(-90)")
  .attr("text-anchor", "middle").attr("fill", "#262626").style("font-size", "16px")
  .text("% Sensors");
svg.append("text").attr("x", (x(0) + x(10)) / 2).attr("y", 771)
  .attr("text-anchor", "middle").attr("fill", "#262626").style("font-size", "16px")
  .text("Time (s)");

// caption
var captionLines = [
  "Definition of spindle events. Top: Example of 10\u2009s of N2 signal from 20 EEG electrodes. Detected spindles at each sensor are highlighted in red. Bottom:",
  "The raw aggregate signal (red) and smoothed signal (black). Spindle events were defined as 1\u2009s time-windows around the peaks of the smoothed signal (gray patch).",
  "The maximum amplitude within this window reflects the spatial extent of the detected spindle event. The same definition applies to MEG sensors and source space",
  "analyses."
];
var captionRight = [1336, 1337, 1322, 92];
var captionBase = [827, 852, 876, 901];
captionLines.forEach(function(line, i) {
  var t = svg.append("text").attr("x", 22).attr("y", captionBase[i])
    .attr("textLength", captionRight[i] - 22).attr("lengthAdjust", "spacingAndGlyphs")
    .style("font-family", "'Liberation Sans Narrow', 'Liberation Sans', Arial, sans-serif")
    .style("font-size", "16.5px").attr("fill", "#333");
  if (i === 0) {
    t.append("tspan").attr("font-weight", "bold").attr("fill", "#222").text("FIGURE 2 | ");
  }
  t.append("tspan").text(line);
});
</script>
</body>
</html>
